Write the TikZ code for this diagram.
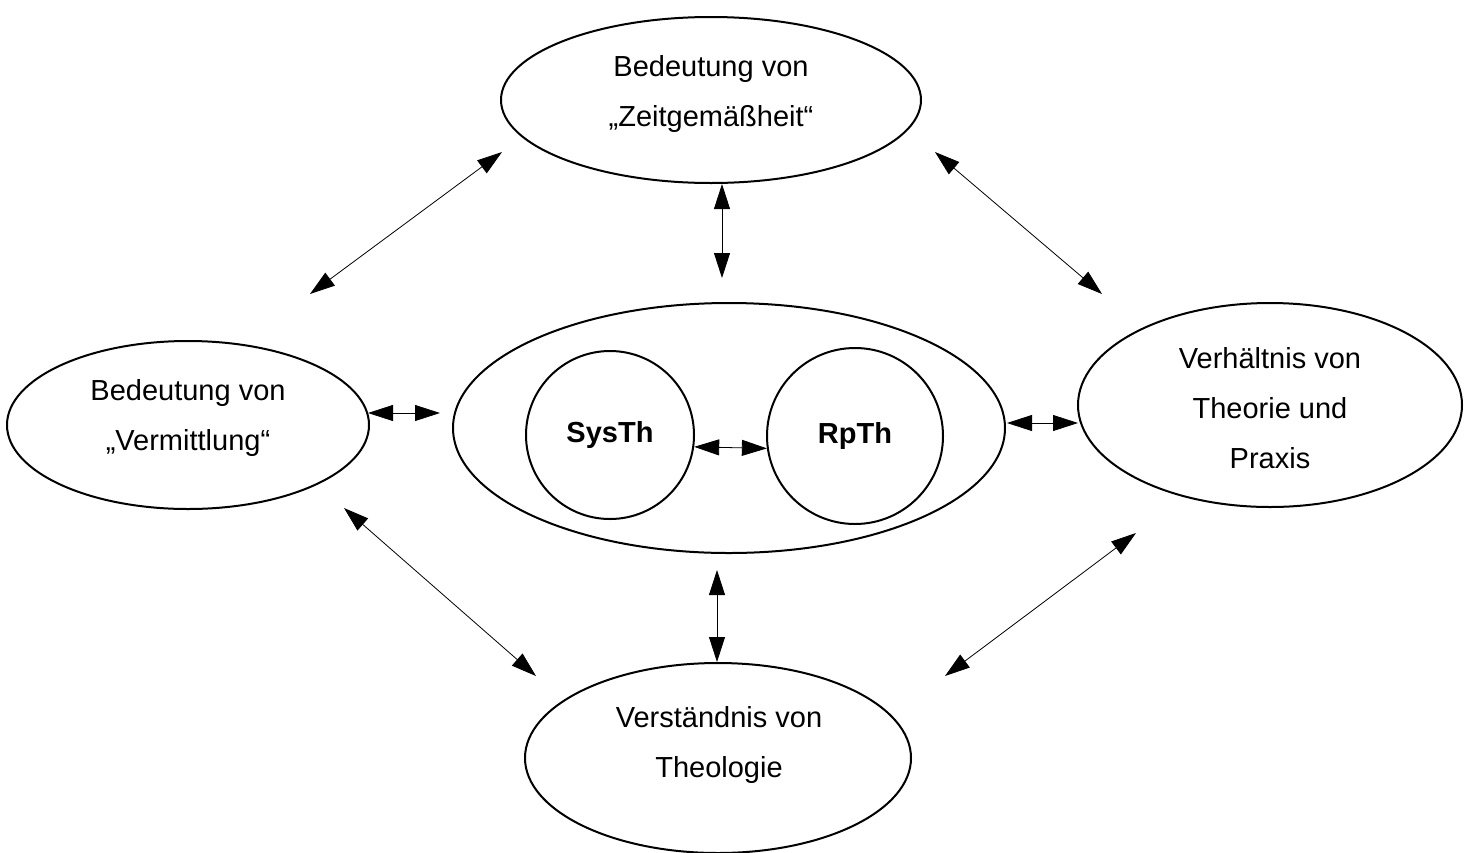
\documentclass[tikz,border=0pt]{standalone}
\usepackage{fontspec}
\setmainfont{Liberation Sans}
\usetikzlibrary{shapes.geometric,arrows.meta}
\tikzset{
  blase/.style={draw,ellipse,line width=2pt,inner sep=0pt},
  kreis/.style={draw,circle,line width=2pt,inner sep=0pt,font=\fontsize{29}{34}\selectfont\bfseries},
  txt/.style={align=center,inner sep=0pt,anchor=north,font=\fontsize{29}{50}\selectfont},
  pfeil/.style={{Triangle[length=25pt,width=16pt]}-{Triangle[length=25pt,width=16pt]},line width=0.8pt},
}
\begin{document}
\begin{tikzpicture}[x=1pt,y=-1pt]
  \useasboundingbox (0,0) rectangle (1467,852);
  % ellipses
  \node[blase,minimum width=420pt,minimum height=166pt] (zeit) at (711,100) {};
  \node[txt] (zeit-t) at (711,55) {Bedeutung von\\„Zeitgemäßheit“};
  \node[blase,minimum width=362pt,minimum height=168pt] (verm) at (188,425) {};
  \node[txt] (verm-t) at (188,379) {Bedeutung von\\„Vermittlung“};
  \node[blase,minimum width=552pt,minimum height=250pt] (mitte) at (729,428) {};
  \node[blase,minimum width=384pt,minimum height=204pt] (praxis) at (1270,405) {};
  \node[txt] (praxis-t) at (1270,347) {Verhältnis von\\Theorie und\\Praxis};
  \node[blase,minimum width=386pt,minimum height=190pt] (theo) at (718,758) {};
  \node[txt] (theo-t) at (719,706) {Verständnis von\\Theologie};
  % circles
  \node[kreis,minimum size=168pt] (sys) at (610,435) {SysTh};
  \node[kreis,minimum size=176pt] (rp) at (855,436) {RpTh};
  % arrow ends
  \coordinate (zl-a) at (502,152);
  \coordinate (zl-b) at (310,294);
  \coordinate (zr-a) at (935,152);
  \coordinate (zr-b) at (1102,294);
  \coordinate (zm-b) at (722,278);
  \coordinate (vm-a) at (368,413);
  \coordinate (vm-b) at (440,413);
  \coordinate (mp-a) at (1007,423);
  \coordinate (mp-b) at (1078,423);
  \coordinate (vt-a) at (344,508);
  \coordinate (vt-b) at (536,676);
  \coordinate (mt-a) at (717,570);
  \coordinate (pt-a) at (1136,533);
  \coordinate (pt-b) at (945,676);
  % arrows
  \draw[pfeil] (zl-a) -- (zl-b);
  \draw[pfeil] (zr-a) -- (zr-b);
  \draw[pfeil] (zeit.south -| zm-b) -- (zm-b);
  \draw[pfeil] (vm-a) -- (vm-b);
  \draw[pfeil] (sys.-8) -- (rp.188);
  \draw[pfeil] (mp-a) -- (mp-b);
  \draw[pfeil] (vt-a) -- (vt-b);
  \draw[pfeil] (mt-a) -- (theo.north -| mt-a);
  \draw[pfeil] (pt-a) -- (pt-b);
\end{tikzpicture}
\end{document}
